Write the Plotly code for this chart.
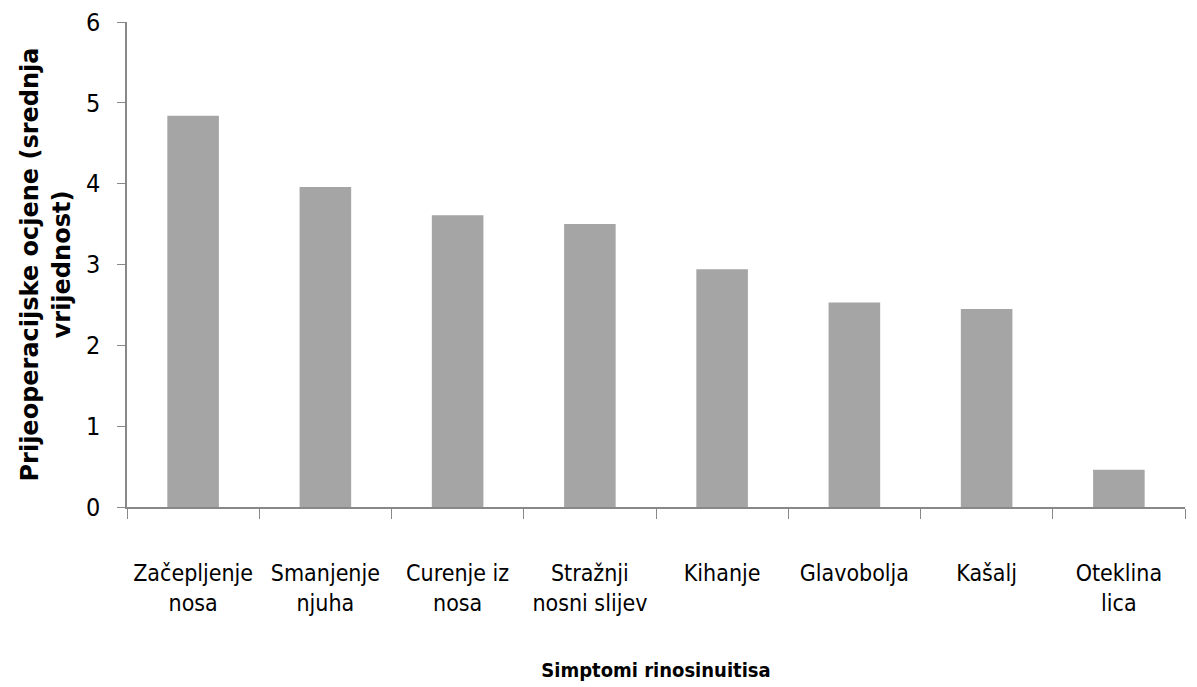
import plotly.graph_objects as go

categories = ["Začepljenje<br>nosa", "Smanjenje<br>njuha", "Curenje iz<br>nosa", "Stražnji<br>nosni slijev",
              "Kihanje", "Glavobolja", "Kašalj", "Oteklina<br>lica"]
values = [4.84, 3.96, 3.61, 3.50, 2.94, 2.53, 2.45, 0.46]
y_ticks = [0, 1, 2, 3, 4, 5, 6]

narrow = "DejaVu Sans Condensed, Liberation Sans Narrow, Liberation Sans, sans-serif"

fig = go.Figure(go.Bar(x=categories, y=values, marker=dict(color="#a5a5a5", line=dict(width=0))))

fig.update_layout(
    width=1197, height=687,
    margin=dict(l=119, r=20, t=14, b=188),
    plot_bgcolor="white", paper_bgcolor="white",
    bargap=0.61, showlegend=False,
)
fig.update_xaxes(
    automargin=False,
    showline=True, linecolor="#888888", linewidth=1.5,
    ticks="outside", tickson="boundaries", ticklen=10, tickcolor="#888888",
    tickfont=dict(family=narrow, size=23, color="black"),
    ticklabelstandoff=45,
    title=dict(text="<b>Simptomi rinosinuitisa</b>", standoff=48,
               font=dict(family=narrow, size=20, color="black")),
)
fig.update_yaxes(
    automargin=False,
    range=[0, 6], tickvals=y_ticks, showgrid=False, zeroline=False,
    showline=True, linecolor="#888888", linewidth=1.5,
    ticks="outside", ticklen=8, tickcolor="#888888",
    tickfont=dict(family=narrow, size=25, color="black"),
    ticklabelstandoff=12, ticklabeloverflow="allow",
    title=dict(text="<b>Prijeoperacijske ocjene (srednja<br>vrijednost)</b>", standoff=9,
               font=dict(family="DejaVu Sans", size=24, color="black")),
)

fig.write_html("out.html")
